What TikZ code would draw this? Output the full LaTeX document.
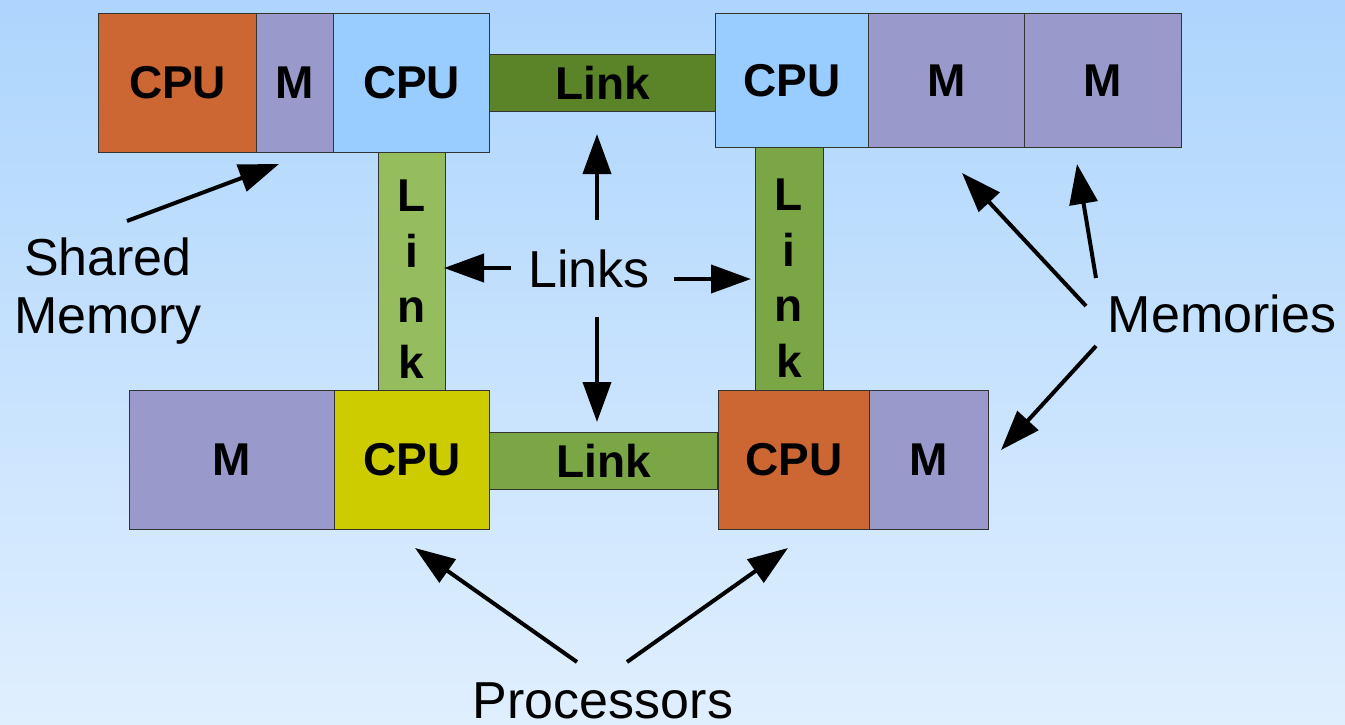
\documentclass[tikz,border=0pt]{standalone}
\usepackage{fontspec}
\setmainfont{Liberation Sans}
\usetikzlibrary{arrows.meta}
\definecolor{bgtop}{RGB}{173,213,253}
\definecolor{bgbot}{RGB}{224,239,254}
\definecolor{cpuorange}{RGB}{204,102,51}
\definecolor{cpublue}{RGB}{153,204,255}
\definecolor{cpuyellow}{RGB}{204,204,0}
\definecolor{mempurple}{RGB}{153,153,204}
\definecolor{linkdark}{RGB}{90,132,39}
\definecolor{linkmid}{RGB}{123,166,70}
\definecolor{linklight}{RGB}{149,189,94}
\definecolor{bordercol}{RGB}{51,51,51}
\begin{document}
\begin{tikzpicture}[x=0.5pt,y=-0.5pt,
  box/.style={draw=bordercol, line width=0.6pt, anchor=north west, inner sep=0pt,
    font=\bfseries\fontsize{23}{27.7}\selectfont},
  vtext/.style={font=\bfseries\fontsize{23}{27.7}\selectfont, align=center, inner sep=0pt, anchor=base},
  lbl/.style={font=\fontsize{26}{29}\selectfont, inner sep=0pt},
  pointer/.style={line width=2pt, -{Triangle[length=20pt,width=14pt]}}
]
\fill[top color=bgtop, bottom color=bgbot] (0,0) rectangle (1345,724);
\useasboundingbox (0,0) rectangle (1345,724);

% links
\node[box, fill=linkdark, minimum width=113.5pt, minimum height=28.5pt] (linkT) at (489,54) {Link};
\node[box, fill=linkmid, minimum width=114pt, minimum height=28.5pt] (linkB) at (489,432) {Link};
\node[box, fill=linklight, minimum width=33.5pt, minimum height=119pt] (linkL) at (378,152) {};
\node[vtext] (linkLtext) at (411.5,378) {L\\i\\n\\k};
\node[box, fill=linkmid, minimum width=34pt, minimum height=121.5pt] (linkR) at (755,147) {};
\node[vtext] (linkRtext) at (789,377) {L\\i\\n\\k};

% top left group
\node[box, fill=cpuorange, minimum width=79pt, minimum height=69.5pt] (cpuA) at (98,13) {CPU};
\node[box, fill=mempurple, minimum width=38.5pt, minimum height=69.5pt] (memA) at (256,13) {M};
\node[box, fill=cpublue, minimum width=78pt, minimum height=69.5pt] (cpuB) at (333,13) {CPU};

% top right group
\node[box, fill=cpublue, minimum width=76.5pt, minimum height=67pt] (cpuC) at (715,13) {CPU};
\node[box, fill=mempurple, minimum width=78pt, minimum height=67pt] (memB) at (868,13) {M};
\node[box, fill=mempurple, minimum width=78.5pt, minimum height=67pt] (memC) at (1024,13) {M};

% bottom left group
\node[box, fill=mempurple, minimum width=102.5pt, minimum height=69.5pt] (memD) at (129,390) {M};
\node[box, fill=cpuyellow, minimum width=77.5pt, minimum height=69.5pt] (cpuD) at (334,390) {CPU};

% bottom right group
\node[box, fill=cpuorange, minimum width=75.5pt, minimum height=69.5pt] (cpuE) at (718,390) {CPU};
\node[box, fill=mempurple, minimum width=59.5pt, minimum height=69.5pt] (memE) at (869,390) {M};

% labels
\node[lbl, align=center, anchor=base] (shared) at (108,333) {Shared\\Memory};
\node[lbl, anchor=base] (links) at (589,287) {Links};
\node[lbl, anchor=base] (memories) at (1222,332) {Memories};
\node[lbl, anchor=base] (procs) at (603,718) {Processors};

% arrow end points
\coordinate (sA) at (127,221); \coordinate (sT) at (279,164);
\coordinate (lU0) at (597,220); \coordinate (lU) at (597,134);
\coordinate (lD0) at (597,317); \coordinate (lD) at (597,422);
\coordinate (lL0) at (511,268); \coordinate (lL) at (444,268);
\coordinate (lR0) at (674,279); \coordinate (lR) at (751,279);
\coordinate (m10) at (1086,306); \coordinate (m1) at (962,173);
\coordinate (m20) at (1096,278); \coordinate (m2) at (1077,164);
\coordinate (m30) at (1096,346); \coordinate (m3) at (1001,450);
\coordinate (p10) at (577,662); \coordinate (p1) at (415,548);
\coordinate (p20) at (627,662); \coordinate (p2) at (788,548);

\draw[pointer] (sA) -- (sT);
\draw[pointer] (lU0) -- (lU);
\draw[pointer] (lD0) -- (lD);
\draw[pointer] (lL0) -- (lL);
\draw[pointer] (lR0) -- (lR);
\draw[pointer] (m10) -- (m1);
\draw[pointer] (m20) -- (m2);
\draw[pointer] (m30) -- (m3);
\draw[pointer] (p10) -- (p1);
\draw[pointer] (p20) -- (p2);
\end{tikzpicture}
\end{document}
